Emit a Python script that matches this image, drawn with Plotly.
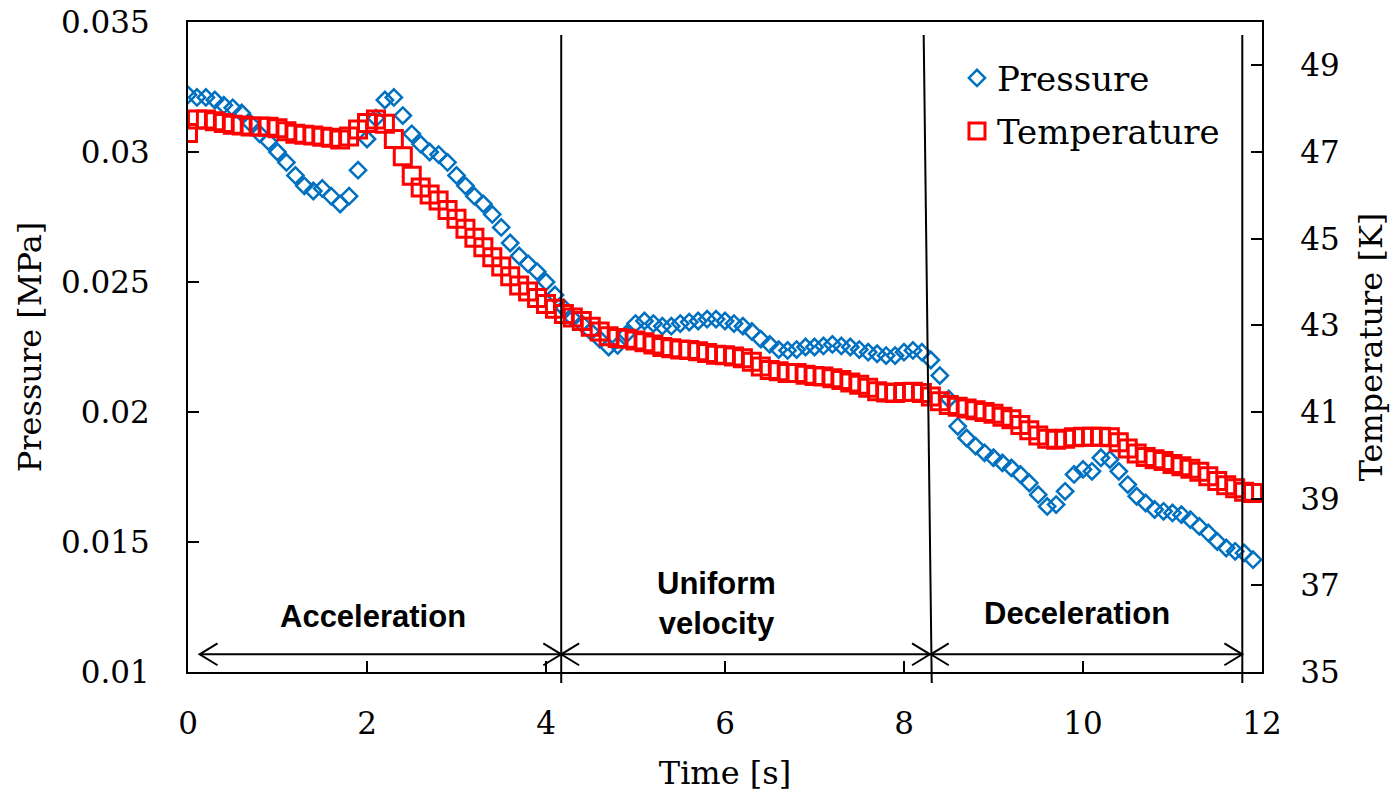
import plotly.graph_objects as go

time_s = [0.0, 0.1, 0.2, 0.3, 0.4, 0.5, 0.6, 0.7, 0.8, 0.9,
          1.0, 1.1, 1.2, 1.3, 1.4, 1.5, 1.6, 1.7, 1.8, 1.9,
          2.0, 2.1, 2.2, 2.3, 2.4, 2.5, 2.6, 2.7, 2.8, 2.9,
          3.0, 3.1, 3.2, 3.3, 3.4, 3.5, 3.6, 3.7, 3.8, 3.9,
          4.0, 4.1, 4.2, 4.3, 4.4, 4.5, 4.6, 4.7, 4.8, 4.9,
          5.0, 5.1, 5.2, 5.3, 5.4, 5.5, 5.6, 5.7, 5.8, 5.9,
          6.0, 6.1, 6.2, 6.3, 6.4, 6.5, 6.6, 6.7, 6.8, 6.9,
          7.0, 7.1, 7.2, 7.3, 7.4, 7.5, 7.6, 7.7, 7.8, 7.9,
          8.0, 8.1, 8.2, 8.3, 8.4, 8.5, 8.6, 8.7, 8.8, 8.9,
          9.0, 9.1, 9.2, 9.3, 9.4, 9.5, 9.6, 9.7, 9.8, 9.9,
          10.0, 10.1, 10.2, 10.3, 10.4, 10.5, 10.6, 10.7, 10.8, 10.9,
          11.0, 11.1, 11.2, 11.3, 11.4, 11.5, 11.6, 11.7, 11.8, 11.9]

pressure_mpa = [0.0322, 0.0321, 0.0321, 0.0320, 0.0318, 0.0317, 0.0315, 0.0311, 0.0307, 0.0304,
                0.0300, 0.0296, 0.0291, 0.0287, 0.0285, 0.0286, 0.0283, 0.0280, 0.0283, 0.0293,
                0.0305, 0.0313, 0.0320, 0.0321, 0.0314, 0.0307, 0.0303, 0.0300, 0.0299, 0.0296,
                0.0291, 0.0287, 0.0283, 0.0280, 0.0276, 0.0271, 0.0265, 0.0260, 0.0257, 0.0254,
                0.0250, 0.0245, 0.0240, 0.0236, 0.0234, 0.0231, 0.0228, 0.0225, 0.02256, 0.0230,
                0.0234, 0.0235, 0.0234, 0.0233, 0.0233, 0.0234, 0.02346, 0.0235, 0.02357, 0.02357,
                0.0235, 0.0234, 0.0233, 0.0231, 0.0228, 0.0226, 0.0224, 0.02237, 0.0224, 0.0225,
                0.0225, 0.02254, 0.0226, 0.02254, 0.0225, 0.0224, 0.0223, 0.02224, 0.02217, 0.02217,
                0.0223, 0.02237, 0.0223, 0.0220, 0.0214, 0.0205, 0.01945, 0.0190, 0.01869, 0.01843,
                0.01824, 0.01804, 0.01785, 0.0176, 0.01727, 0.01682, 0.01637, 0.01644, 0.01695, 0.0176,
                0.01779, 0.01772, 0.01824, 0.01817, 0.01772, 0.01721, 0.01676, 0.0165, 0.01625, 0.01618,
                0.01612, 0.01605, 0.01586, 0.0156, 0.01535, 0.01502, 0.01477, 0.01464, 0.01458, 0.01432]

temperature_k = [47.44, 47.75, 47.75, 47.71, 47.67, 47.63, 47.61, 47.59, 47.59, 47.58,
                 47.55, 47.48, 47.42, 47.40, 47.38, 47.35, 47.33, 47.29, 47.36, 47.52,
                 47.67, 47.75, 47.65, 47.30, 46.90, 46.45, 46.18, 46.02, 45.88, 45.66,
                 45.46, 45.23, 45.02, 44.80, 44.57, 44.36, 44.13, 43.92, 43.78, 43.63,
                 43.49, 43.38, 43.26, 43.18, 43.10, 42.97, 42.86, 42.75, 42.71, 42.69,
                 42.65, 42.61, 42.56, 42.50, 42.47, 42.44, 42.43, 42.40, 42.36, 42.32,
                 42.31, 42.28, 42.24, 42.16, 42.05, 41.97, 41.94, 41.90, 41.90, 41.86,
                 41.83, 41.82, 41.78, 41.74, 41.68, 41.63, 41.56, 41.48, 41.45, 41.44,
                 41.46, 41.47, 41.44, 41.36, 41.25, 41.16, 41.12, 41.08, 41.04, 41.00,
                 40.96, 40.89, 40.83, 40.70, 40.58, 40.46, 40.38, 40.36, 40.38, 40.42,
                 40.43, 40.43, 40.43, 40.42, 40.30, 40.16, 40.04, 39.96, 39.91, 39.87,
                 39.80, 39.75, 39.69, 39.62, 39.52, 39.41, 39.31, 39.24, 39.16, 39.13]

x_ticks = [0, 2, 4, 6, 8, 10, 12]
p_ticks = [0.01, 0.015, 0.02, 0.025, 0.03, 0.035]
p_tick_text = ["0.01", "0.015", "0.02", "0.025", "0.03", "0.035"]
t_ticks = [35, 37, 39, 41, 43, 45, 47, 49]

# phase boundaries (time, s) and labels
boundary_bottom = [4.17, 8.31, 11.78]
boundary_top = [4.17, 8.22, 11.78]
arrow_spans = [(0.13, 4.17), (4.17, 8.29), (8.30, 11.78)]
arrow_level = 0.01068
phase_labels = ["Acceleration", "Uniform<br>velocity", "Deceleration"]
phase_label_x = [2.07, 5.91, 9.935]
phase_label_y = [0.01214, 0.01265, 0.01225]

SERIF = "DejaVu Serif"
BLUE = "#0070C0"
RED = "#FF0000"

fig = go.Figure()
fig.add_trace(go.Scatter(
    x=time_s, y=pressure_mpa, mode="markers", name="Pressure",
    legendgroup="p",
    marker=dict(symbol="diamond-open", size=12.5, color=BLUE,
                line=dict(width=2.5, color=BLUE)),
    yaxis="y"))
fig.add_trace(go.Scatter(
    x=time_s, y=temperature_k, mode="markers", name="Temperature",
    legendgroup="t",
    marker=dict(symbol="square-open", size=17, color=RED,
                line=dict(width=3, color=RED)),
    yaxis="y2"))

shapes = []
for xb, xt in zip(boundary_bottom, boundary_top):
    shapes.append(dict(type="line", xref="x", yref="paper",
                       x0=xb, y0=-0.017, x1=xt, y1=0.98,
                       line=dict(color="black", width=2)))

# arrows (shaft + open chevron heads)
dx = 0.2
dy = 0.00042
for a, b in arrow_spans:
    shapes.append(dict(type="line", xref="x", yref="y", x0=a, y0=arrow_level,
                       x1=b, y1=arrow_level, line=dict(color="black", width=2)))
    shapes.append(dict(type="path", xref="x", yref="y",
                       path=f"M {a+dx} {arrow_level+dy} L {a} {arrow_level} L {a+dx} {arrow_level-dy}",
                       line=dict(color="black", width=2)))
    shapes.append(dict(type="path", xref="x", yref="y",
                       path=f"M {b-dx} {arrow_level+dy} L {b} {arrow_level} L {b-dx} {arrow_level-dy}",
                       line=dict(color="black", width=2)))

annotations = []
for lab, lx, ly in zip(phase_labels, phase_label_x, phase_label_y):
    annotations.append(dict(text=f"<b>{lab}</b>", x=lx, y=ly, xref="x", yref="y",
                            showarrow=False,
                            font=dict(family="Liberation Sans", size=31, color="black")))

tickfont = dict(family=SERIF, size=31, color="black")
titlefont = dict(family=SERIF, size=32, color="black")

fig.update_layout(
    width=1393, height=792,
    margin=dict(l=188, r=131, t=22, b=120, autoexpand=False),
    paper_bgcolor="white", plot_bgcolor="white",
    showlegend=True,
    legend=dict(x=0.716, y=0.958, xanchor="left", yanchor="top",
                font=dict(family=SERIF, size=34, color="black"),
                bgcolor="rgba(0,0,0,0)", traceorder="grouped", tracegroupgap=6),
    shapes=shapes,
    annotations=annotations,
    xaxis=dict(range=[0, 12], tickvals=x_ticks, ticks="inside", ticklen=11,
               tickwidth=1.5, tickcolor="black", showline=True, linewidth=2,
               linecolor="black", mirror=True, showgrid=False, zeroline=False,
               automargin=False,
               tickfont=tickfont, ticklabelstandoff=23,
               title=dict(text="Time [s]", font=titlefont, standoff=28)),
    yaxis=dict(range=[0.01, 0.035], tickvals=p_ticks, ticktext=p_tick_text,
               ticks="inside", ticklen=11, tickwidth=1.5, tickcolor="black",
               showline=True, linewidth=2, linecolor="black", showgrid=False,
               automargin=False,
               zeroline=False, tickfont=tickfont, ticklabelstandoff=30,
               title=dict(text="Pressure [MPa]", font=titlefont, standoff=10)),
    yaxis2=dict(range=[35, 50], tickvals=t_ticks, overlaying="y", side="right",
                ticks="inside", ticklen=11, tickwidth=1.5, tickcolor="black",
                showline=True, linewidth=2, linecolor="black", showgrid=False,
                automargin=False,
                zeroline=False, tickfont=tickfont, ticklabelstandoff=30,
                title=dict(text="Temperature [K]", font=titlefont, standoff=21)),
)

fig.write_html("out.html")
